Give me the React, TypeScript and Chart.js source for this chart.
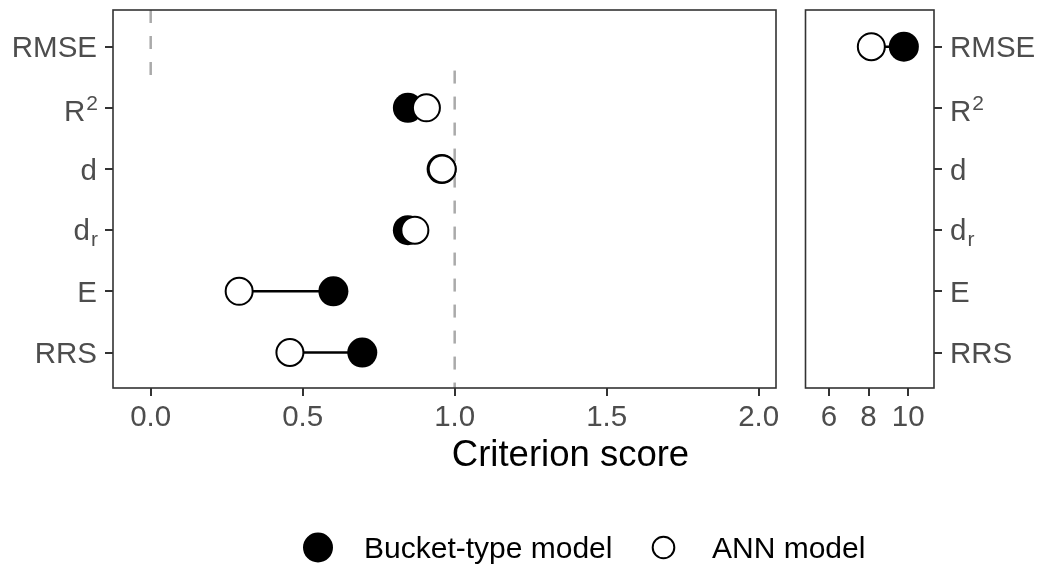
import React, { useEffect, useRef } from "react";
import { Chart, registerables } from "chart.js";

Chart.register(...registerables);

// ---------------- data ----------------
const categories = ["RMSE", "R2", "d", "dr", "E", "RRS"];
// label pieces: [text, role] where role is "" | "sup" | "sub"
const categoryLabelParts: [string, string][][] = [
  [["RMSE", ""]],
  [["R", ""], ["2", "sup"]],
  [["d", ""]],
  [["d", ""], ["r", "sub"]],
  [["E", ""]],
  [["RRS", ""]],
];
const seriesNames = ["Bucket-type model", "ANN model"];
// left panel (criterion score)
const bucketScores: (number | null)[] = [null, 0.846, 0.957, 0.846, 0.601, 0.696];
const annScores: (number | null)[] = [null, 0.907, 0.959, 0.869, 0.291, 0.458];
// right panel (RMSE)
const bucketRmse: (number | null)[] = [9.78, null, null, null, null, null];
const annRmse: (number | null)[] = [8.14, null, null, null, null, null];
// axis ticks & limits
const leftTicks = [0, 0.5, 1, 1.5, 2];
const rightTicks = [6, 8, 10];
const leftRange = [-0.124, 2.057];
const rightRange = [4.82, 11.3];
const catRange = [-0.6, 5.58];
// dashed reference lines (left panel)
const refLineX = [0, 1];
const refLineFrom = [-0.6, 0.39];
const refLineTo = [0.49, 5.58];
const xTitle = "Criterion score";

// ---------------- styles ----------------
const FAMILY = "'Liberation Sans', Arial, Helvetica, sans-serif";
const TICK_COLOR = "#4d4d4d";
const AXIS_COLOR = "#333333";
const TICK_SIZE = 29.5;
const PANEL_TOP = 10;
const PANEL_BOTTOM = 388;

function pointsFor(vals: (number | null)[]) {
  const out: { x: number; y: number }[] = [];
  vals.forEach((v, i) => {
    if (v !== null) out.push({ x: v, y: i });
  });
  return out;
}

function segmentDatasets(a: (number | null)[], b: (number | null)[]) {
  const out: any[] = [];
  a.forEach((v, i) => {
    const w = b[i];
    if (v !== null && w !== null) {
      out.push({
        label: "seg" + i,
        data: [
          { x: v, y: i },
          { x: w, y: i },
        ],
        showLine: true,
        borderColor: "#000000",
        borderWidth: 2.5,
        pointRadius: 0,
        pointHoverRadius: 0,
        order: 3,
      });
    }
  });
  return out;
}

function pointDatasets(bucket: (number | null)[], ann: (number | null)[]) {
  return [
    {
      label: seriesNames[1],
      data: pointsFor(ann),
      backgroundColor: "#ffffff",
      borderColor: "#000000",
      borderWidth: 2,
      pointRadius: 13.5,
      pointHoverRadius: 13.5,
      order: 0,
    },
    {
      label: seriesNames[0],
      data: pointsFor(bucket),
      backgroundColor: "#000000",
      borderColor: "#000000",
      borderWidth: 0,
      pointRadius: 15,
      pointHoverRadius: 15,
      order: 1,
    },
  ];
}

function xScale(range: number[], ticks: number[], fmt: (v: number) => string) {
  return {
    type: "linear",
    position: "bottom",
    min: range[0],
    max: range[1],
    afterBuildTicks: (s: any) => {
      s.ticks = ticks.map((v) => ({ value: v }));
    },
    afterFit: (s: any) => {
      s.height = 569 - PANEL_BOTTOM;
    },
    grid: {
      display: true,
      drawOnChartArea: false,
      drawTicks: true,
      tickLength: 8,
      color: AXIS_COLOR,
      lineWidth: 2,
    },
    border: { display: false },
    ticks: {
      font: { family: FAMILY, size: TICK_SIZE },
      color: TICK_COLOR,
      padding: 4,
      maxRotation: 0,
      autoSkip: false,
      callback: (v: any) => fmt(Number(v)),
    },
  };
}

function yScale(position: string, width: number) {
  return {
    type: "linear",
    position,
    min: catRange[0],
    max: catRange[1],
    reverse: true,
    afterBuildTicks: (s: any) => {
      s.ticks = categories.map((_, i) => ({ value: i }));
    },
    afterFit: (s: any) => {
      s.width = width;
      s.paddingTop = 0;
      s.paddingBottom = 0;
    },
    grid: {
      display: true,
      drawOnChartArea: false,
      drawTicks: true,
      tickLength: 8,
      color: AXIS_COLOR,
      lineWidth: 2,
    },
    border: { display: false },
    ticks: { display: false },
  };
}

const panelBorderPlugin = {
  id: "panelBorder",
  afterDatasetsDraw(chart: any) {
    const { ctx, chartArea } = chart;
    ctx.save();
    ctx.strokeStyle = AXIS_COLOR;
    ctx.lineWidth = 1.6;
    ctx.strokeRect(
      chartArea.left,
      chartArea.top,
      chartArea.right - chartArea.left,
      chartArea.bottom - chartArea.top
    );
    ctx.restore();
  },
};

function catLabelPlugin(side: "left" | "right") {
  return {
    id: "catLabels",
    afterDraw(chart: any) {
      const { ctx, chartArea } = chart;
      const ys = chart.scales.y;
      ctx.save();
      ctx.fillStyle = TICK_COLOR;
      ctx.textBaseline = "alphabetic";
      ctx.textAlign = "left";
      const fontFor = (role: string) =>
        `${role === "sup" ? 21 : role === "sub" ? 21 : TICK_SIZE}px ${FAMILY}`;
      categoryLabelParts.forEach((parts, i) => {
        const y = ys.getPixelForValue(i);
        const widths = parts.map((p) => {
          ctx.font = fontFor(p[1]);
          return ctx.measureText(p[0]).width;
        });
        const total = widths.reduce((a, b) => a + b, 0);
        const hasSup = parts.some((p) => p[1] === "sup");
        const hasSub = parts.some((p) => p[1] === "sub");
        const base = y + (hasSup ? 13.5 : hasSub ? 9.5 : 10.5);
        let x = side === "left" ? chartArea.left - 16 - total : chartArea.right + 16;
        parts.forEach((p, k) => {
          ctx.font = fontFor(p[1]);
          const dy = p[1] === "sup" ? -11 : p[1] === "sub" ? 6 : 0;
          ctx.fillText(p[0], x + (p[1] ? 1 : 0), base + dy);
          x += widths[k];
        });
      });
      ctx.restore();
    },
  };
}

const titleLegendPlugin = {
  id: "titleLegend",
  afterDraw(chart: any) {
    const { ctx } = chart;
    ctx.save();
    // x-axis title
    ctx.fillStyle = "#000000";
    ctx.font = `36.5px ${FAMILY}`;
    ctx.textAlign = "center";
    ctx.textBaseline = "alphabetic";
    ctx.fillText(xTitle, 570.5, 466);
    // legend
    ctx.textAlign = "left";
    ctx.font = `30px ${FAMILY}`;
    // bucket key
    ctx.beginPath();
    ctx.arc(318, 547.5, 15, 0, Math.PI * 2);
    ctx.fillStyle = "#000000";
    ctx.fill();
    ctx.fillText(seriesNames[0], 364, 558);
    // ANN key
    ctx.beginPath();
    ctx.arc(663.5, 547.5, 10.8, 0, Math.PI * 2);
    ctx.fillStyle = "#ffffff";
    ctx.fill();
    ctx.lineWidth = 2;
    ctx.strokeStyle = "#000000";
    ctx.stroke();
    ctx.fillStyle = "#000000";
    ctx.fillText(seriesNames[1], 712, 558);
    ctx.restore();
  },
};

// force the plot panel to the exact pixel rows used by the reference
const panelRowsPlugin = {
  id: "panelRows",
  afterLayout(chart: any) {
    const ca = chart.chartArea;
    if (ca.top !== PANEL_TOP) {
      ca.top = PANEL_TOP;
      const ys = chart.scales.y;
      ys.top = PANEL_TOP;
      ys.height = ys.bottom - ys.top;
      ys.configure();
      ys.ticks.forEach(() => undefined);
    }
  },
};

export default function App() {
  const leftRef = useRef<HTMLCanvasElement | null>(null);
  const rightRef = useRef<HTMLCanvasElement | null>(null);

  useEffect(() => {
    if (!leftRef.current || !rightRef.current) return;

    const refDatasets = refLineX.map((x, k) => ({
      label: "ref" + k,
      data: [
        { x, y: refLineFrom[k] },
        { x, y: refLineTo[k] },
      ],
      showLine: true,
      borderColor: "#aaaaaa",
      borderWidth: 2.5,
      borderDash: [13, 13],
      pointRadius: 0,
      pointHoverRadius: 0,
      order: 4,
    }));

    const left = new Chart(leftRef.current, {
      type: "scatter",
      data: {
        datasets: [
          ...pointDatasets(bucketScores, annScores),
          ...segmentDatasets(bucketScores, annScores),
          ...refDatasets,
        ] as any,
      },
      options: {
        responsive: false,
        animation: false,
        devicePixelRatio: 1,
        events: [],
        layout: { padding: { left: 0, top: PANEL_TOP, right: 265, bottom: 0 } },
        plugins: { legend: { display: false }, tooltip: { enabled: false } },
        scales: {
          x: xScale(leftRange, leftTicks, (v) => v.toFixed(1)),
          y: yScale("left", 113),
        } as any,
      },
      plugins: [panelRowsPlugin, panelBorderPlugin, catLabelPlugin("left"), titleLegendPlugin],
    });

    const right = new Chart(rightRef.current, {
      type: "scatter",
      data: {
        datasets: [
          ...pointDatasets(bucketRmse, annRmse),
          ...segmentDatasets(bucketRmse, annRmse),
        ] as any,
      },
      options: {
        responsive: false,
        animation: false,
        devicePixelRatio: 1,
        events: [],
        layout: { padding: { left: 12, top: PANEL_TOP, right: 0, bottom: 0 } },
        plugins: { legend: { display: false }, tooltip: { enabled: false } },
        scales: {
          x: xScale(rightRange, rightTicks, (v) => String(v)),
          y: yScale("right", 107),
        } as any,
      },
      plugins: [panelRowsPlugin, panelBorderPlugin, catLabelPlugin("right")],
    });

    return () => {
      left.destroy();
      right.destroy();
    };
  }, []);

  return (
    <div
      style={{
        position: "fixed",
        left: 0,
        top: 0,
        width: 1041,
        height: 569,
        background: "#ffffff",
      }}
    >
      <canvas
        ref={leftRef}
        width={1041}
        height={569}
        style={{ position: "absolute", left: 0, top: 0, width: 1041, height: 569 }}
      />
      <canvas
        ref={rightRef}
        width={251}
        height={569}
        style={{ position: "absolute", left: 790, top: 0, width: 251, height: 569 }}
      />
    </div>
  );
}
